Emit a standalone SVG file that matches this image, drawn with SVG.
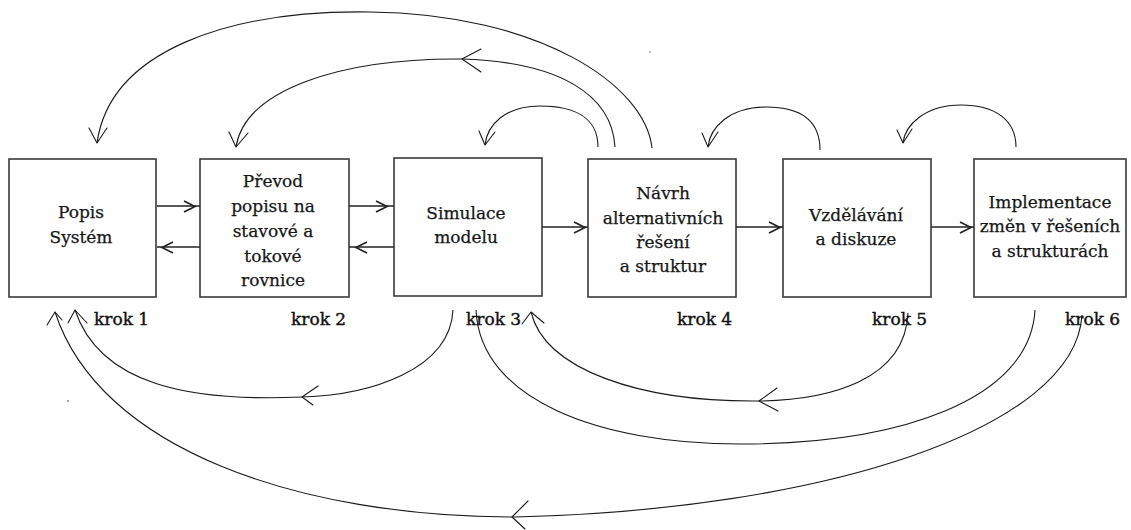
<svg xmlns="http://www.w3.org/2000/svg" width="1131" height="530" viewBox="0 0 1131 530">
  <style>
    .box { fill: #ffffff; stroke: #3a3a3a; stroke-width: 1.6; }
    .lbl { font-family: "DejaVu Serif", "Liberation Serif", serif; font-size: 17px; fill: #161616; stroke: #161616; stroke-width: 0.25; text-anchor: middle; }
    .krok { font-family: "DejaVu Serif", "Liberation Serif", serif; font-size: 17px; fill: #111111; stroke: #111111; stroke-width: 0.4; }
    .flow { fill: none; stroke: #222222; stroke-width: 1.5; }
    .loop { fill: none; stroke: #1a1a1a; stroke-width: 1.1; }
    .head { fill: none; stroke: #1a1a1a; stroke-width: 1.1; stroke-linecap: round; stroke-linejoin: round; }
    .chev { fill: none; stroke: #222222; stroke-width: 1.7; stroke-linejoin: miter; }
  </style>
  <rect width="1131" height="530" fill="#ffffff"/>

  <!-- step boxes -->
  <g id="krok1">
    <rect class="box" x="9" y="159" width="147" height="138"/>
    <text class="lbl" x="81" y="218">Popis</text>
    <text class="lbl" x="81" y="243">Systém</text>
    <text class="krok" x="94" y="325">krok 1</text>
  </g>
  <g id="krok2">
    <rect class="box" x="200" y="159" width="149" height="138"/>
    <text class="lbl" x="273" y="187">Převod</text>
    <text class="lbl" x="273" y="212">popisu na</text>
    <text class="lbl" x="273" y="237">stavové a</text>
    <text class="lbl" x="273" y="262">tokové</text>
    <text class="lbl" x="273" y="286">rovnice</text>
    <text class="krok" x="291" y="325">krok 2</text>
  </g>
  <g id="krok3">
    <rect class="box" x="394" y="158" width="148" height="138"/>
    <text class="lbl" x="466" y="219">Simulace</text>
    <text class="lbl" x="466" y="243">modelu</text>
    <text class="krok" x="466" y="325">krok 3</text>
  </g>
  <g id="krok4">
    <rect class="box" x="588" y="159" width="148" height="138"/>
    <text class="lbl" x="663" y="199">Návrh</text>
    <text class="lbl" x="663" y="224">alternativních</text>
    <text class="lbl" x="663" y="248">řešení</text>
    <text class="lbl" x="663" y="272">a struktur</text>
    <text class="krok" x="677" y="325">krok 4</text>
  </g>
  <g id="krok5">
    <rect class="box" x="783" y="159" width="148" height="138"/>
    <text class="lbl" x="856" y="221">Vzdělávání</text>
    <text class="lbl" x="856" y="245">a diskuze</text>
    <text class="krok" x="872" y="325">krok 5</text>
  </g>
  <g id="krok6">
    <rect class="box" x="974" y="159" width="152" height="138"/>
    <text class="lbl" x="1050" y="208">Implementace</text>
    <text class="lbl" x="1050" y="232">změn v řešeních</text>
    <text class="lbl" x="1050" y="257">a strukturách</text>
    <text class="krok" x="1065" y="325">krok 6</text>
  </g>

  <g id="connectors">
    <!-- straight links between neighbouring steps -->
    <line class="flow" x1="157" y1="206" x2="200" y2="206"/>
    <polyline class="chev" points="184,201 195,206.5 184,212"/>
    <line class="flow" x1="157" y1="247" x2="200" y2="247"/>
    <polyline class="chev" points="173,242 162,247.5 173,253"/>

    <line class="flow" x1="349" y1="206" x2="394" y2="206"/>
    <polyline class="chev" points="376,201 387,206.5 376,212"/>
    <line class="flow" x1="349" y1="247" x2="394" y2="247"/>
    <polyline class="chev" points="367,242 356,247.5 367,253"/>

    <line class="flow" x1="542" y1="227" x2="588" y2="227"/>
    <polyline class="chev" points="574,222 585,227.5 574,233"/>
    <line class="flow" x1="736" y1="227" x2="783" y2="227"/>
    <polyline class="chev" points="769,222 780,227.5 769,233"/>
    <line class="flow" x1="931" y1="227" x2="974" y2="227"/>
    <polyline class="chev" points="960,222 971,227.5 960,233"/>

    <!-- loops over the top -->
    <path class="loop" d="M652,148 C645,85 540,14 370,12 C230,10 110,50 97,143"/>
    <polyline class="head" points="89,128 97,143 107,128"/>

    <path class="loop" d="M615,147 C612,95 560,62 462,59 C340,58 245,90 236,147"/>
    <polyline class="head" points="481,49 462,59 481,72"/>
    <polyline class="head" points="229,132 236,147 248,133"/>

    <path class="loop" d="M598,147 C598,118 575,106 540,106 C505,106 487,125 485,145"/>
    <polyline class="head" points="479,131 485,145 495,132"/>

    <path class="loop" d="M820,150 C820,120 800,107 766,107 C730,107 710,127 708,147"/>
    <polyline class="head" points="702,133 708,147 718,132"/>

    <path class="loop" d="M1016,147 C1016,120 995,105 961,105 C925,105 905,125 903,143"/>
    <polyline class="head" points="897,130 903,143 912,129"/>

    <!-- loops underneath -->
    <path class="loop" d="M453,310 C450,370 370,395 302,397 C190,402 100,385 75,310"/>
    <polyline class="head" points="318,386 302,397 313,405"/>
    <polyline class="head" points="68,323 75,310 87,323"/>

    <path class="loop" d="M1035,310 C1030,400 900,444 740,444 C600,444 480,400 476,310"/>

    <path class="loop" d="M908,313 C905,380 830,400 759,401 C640,402 545,370 531,312"/>
    <polyline class="head" points="777,388 759,401 778,411"/>
    <polyline class="head" points="522,324 531,312 544,323"/>

    <path class="loop" d="M1082,315 C1075,430 820,510 515,517 C300,517 100,450 55,312"/>
    <polyline class="head" points="528,501 512,517 525,529"/>
    <polyline class="head" points="47,325 55,312 62,320"/>
  </g>

  <!-- specks -->
  <circle cx="68" cy="401" r="0.8" fill="#333333"/>
  <circle cx="650" cy="52" r="0.7" fill="#555555"/>
</svg>
